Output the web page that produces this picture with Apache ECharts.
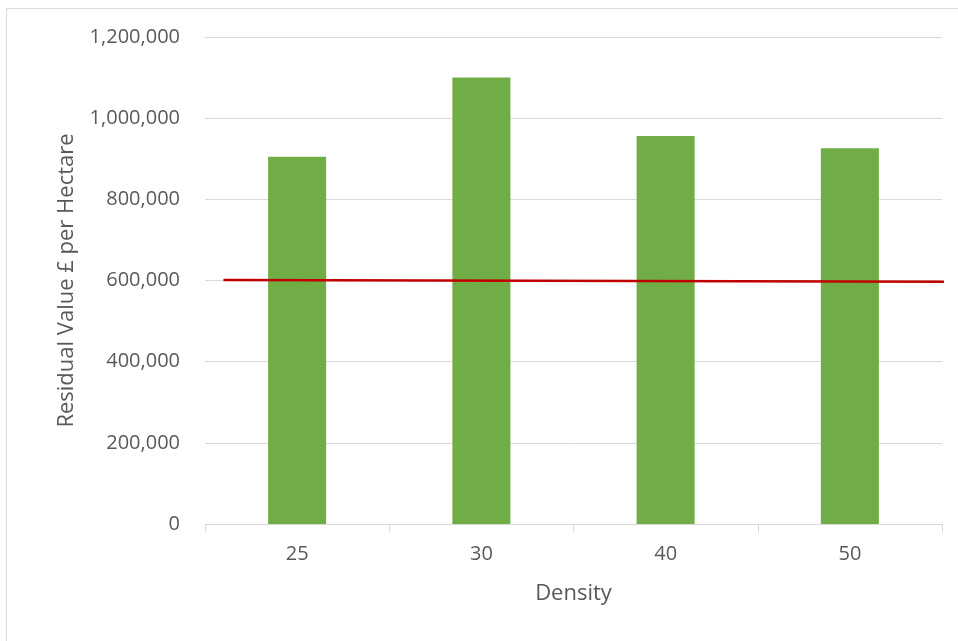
<!DOCTYPE html>
<html>
<head>
<meta charset="utf-8">
<script src="https://cdn.jsdelivr.net/npm/echarts@6/dist/echarts.min.js"></script>
<style>
  html, body { margin: 0; padding: 0; background: #fff; }
  #chart { width: 958px; height: 641px; }
</style>
</head>
<body>
<div id="chart"></div>
<script>
// Residual land value per hectare by density
const densities = ['25', '30', '40', '50'];
const residualValues = [905000, 1100000, 956000, 926000];

// Benchmark line, positioned along the category band (0 = left edge, 4 = right edge)
const benchmarkX = [0.1, 4.06];
const benchmarkY = [601000, 597000];

const yTicks = [0, 200000, 400000, 600000, 800000, 1000000, 1200000];

const chart = echarts.init(document.getElementById('chart'));
const fontFamily = '"Open Sans", "Noto Sans", sans-serif';

chart.setOption({
  animation: false,
  backgroundColor: '#ffffff',
  graphic: [{
    type: 'rect',
    shape: { x: 6.5, y: 8.5, width: 970, height: 660 },
    style: { fill: 'none', stroke: '#d9d9d9', lineWidth: 1 },
    silent: true
  }],
  grid: { left: 205, right: 16, top: 37, bottom: 117 },
  xAxis: [{
    type: 'category',
    data: densities,
    name: 'Density',
    nameLocation: 'middle',
    nameGap: 59,
    nameTextStyle: { color: '#595959', fontSize: 22, fontFamily },
    axisLine: { lineStyle: { color: '#d9d9d9', width: 1 } },
    axisTick: { show: true, length: 8, lineStyle: { color: '#d9d9d9' } },
    axisLabel: { color: '#595959', fontSize: 20, fontFamily, margin: 20 }
  }, {
    type: 'value',
    min: 0,
    max: 4,
    show: false
  }],
  yAxis: {
    type: 'value',
    min: yTicks[0],
    max: yTicks[yTicks.length - 1],
    interval: yTicks[1] - yTicks[0],
    name: 'Residual Value £ per Hectare',
    nameLocation: 'middle',
    nameGap: 127,
    nameTextStyle: { color: '#595959', fontSize: 22, fontFamily },
    axisLine: { show: false },
    axisTick: { show: false },
    splitLine: { lineStyle: { color: '#d9d9d9', width: 1 } },
    axisLabel: {
      color: '#595959', fontSize: 20, fontFamily, margin: 25,
      formatter: v => v.toLocaleString('en-GB')
    }
  },
  series: [{
    type: 'bar',
    data: residualValues,
    barWidth: '31.5%',
    itemStyle: { color: '#70ad47' }
  }, {
    type: 'line',
    xAxisIndex: 1,
    data: benchmarkX.map((x, i) => [x, benchmarkY[i]]),
    clip: false,
    symbol: 'none',
    lineStyle: { color: '#c00000', width: 2.5 }
  }]
});
</script>
</body>
</html>
